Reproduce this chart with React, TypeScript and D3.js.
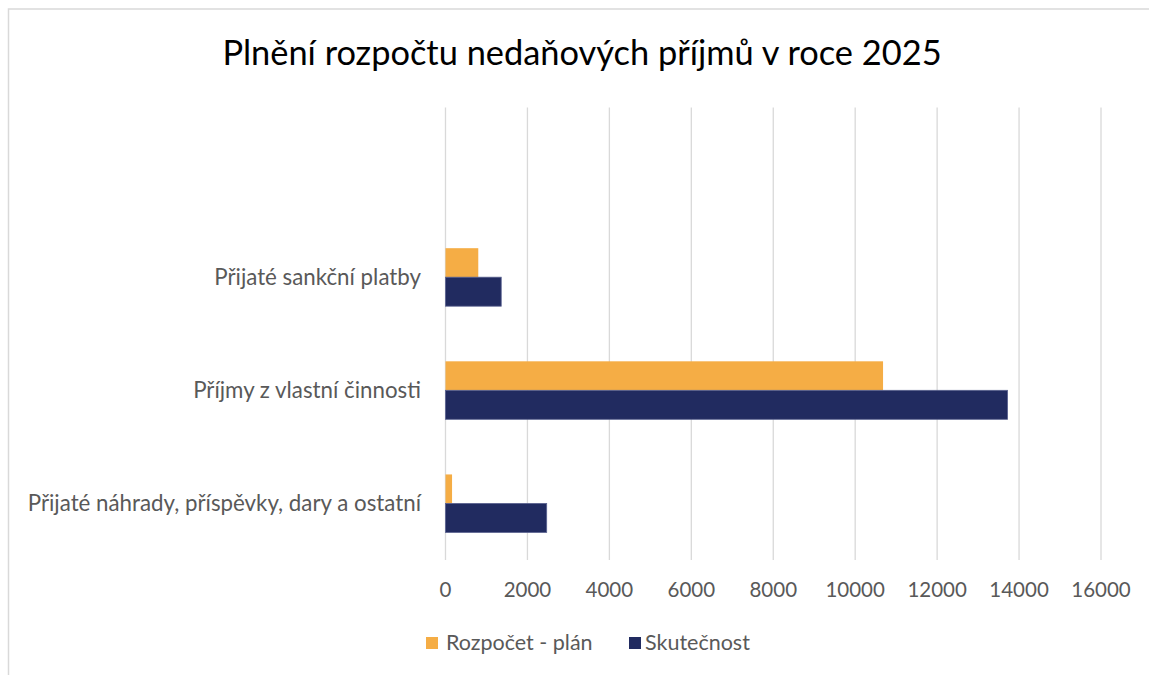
import React, { useEffect, useRef } from 'react';
import * as d3 from 'd3';

// categories from top to bottom (first slot is empty in the original)
const categories = ['', 'Přijaté sankční platby', 'Příjmy z vlastní činnosti', 'Přijaté náhrady, příspěvky, dary a ostatní'];
const seriesNames = ['Rozpočet - plán', 'Skutečnost'];
const planValues = [null, 800, 10680, 160];
const actualValues = [null, 1360, 13720, 2470];
const xTicks = [0, 2000, 4000, 6000, 8000, 10000, 12000, 14000, 16000];
const colors = ['#F5AD45', '#212B60'];

const FONT = 'Lato, "Open Sans", sans-serif';

const App = () => {
    const ref = useRef<SVGSVGElement>(null);

    useEffect(() => {
        const svg = d3.select(ref.current);
        svg.selectAll('*').remove();

        const W = 1149, H = 675;
        const left = 445.5, right = 1101, top = 107.5, bottom = 560;

        // chart border (right/bottom edge is outside of the picture)
        svg.append('rect')
            .attr('x', 8.5).attr('y', 9)
            .attr('width', W + 20).attr('height', H + 20)
            .attr('fill', '#fff')
            .attr('stroke', '#D9D9D9')
            .attr('stroke-width', 1.5);

        const x = d3.scaleLinear().domain([0, 16000]).range([left, right]);
        const y = d3.scaleBand().domain(categories.map((c, i) => String(i))).range([top, bottom]);
        const inner = d3.scaleBand().domain(seriesNames).range([0, 58]);
        const offset = (y.bandwidth() - 58) / 2;

        // gridlines
        svg.append('g').selectAll('line')
            .data(xTicks)
            .enter().append('line')
            .attr('x1', d => x(d)).attr('x2', d => x(d))
            .attr('y1', top).attr('y2', bottom)
            .attr('stroke', '#D9D9D9')
            .attr('stroke-width', 1.3);

        const series = [planValues, actualValues];
        series.forEach((vals, si) => {
            svg.append('g').selectAll('rect')
                .data(vals.map((v, i) => ({ v, i })).filter(d => d.v !== null))
                .enter().append('rect')
                .attr('x', x(0))
                .attr('y', d => (y(String(d.i)) as number) + offset + (inner(seriesNames[si]) as number))
                .attr('width', d => x(d.v as number) - x(0))
                .attr('height', inner.bandwidth())
                .attr('fill', colors[si])
                .attr('stroke', si === 1 ? '#5A6290' : 'none')
                .attr('stroke-width', 0.8);
        });

        // category labels
        svg.append('g').selectAll('text')
            .data(categories.map((c, i) => ({ c, i })).filter(d => d.c !== ''))
            .enter().append('text')
            .attr('x', 421)
            .attr('y', d => (y(String(d.i)) as number) + y.bandwidth() / 2)
            .attr('dy', '0.36em')
            .attr('text-anchor', 'end')
            .attr('font-family', FONT)
            .attr('font-size', 22.3)
            .attr('fill', '#595959')
            .text(d => d.c);

        // x tick labels
        svg.append('g').selectAll('text')
            .data(xTicks)
            .enter().append('text')
            .attr('x', d => x(d))
            .attr('y', 589.5)
            .attr('dy', '0.36em')
            .attr('text-anchor', 'middle')
            .attr('font-family', FONT)
            .attr('font-size', 20.5)
            .attr('fill', '#595959')
            .text(d => String(d));

        // title
        svg.append('text')
            .attr('x', 582)
            .attr('y', 65)
            .attr('text-anchor', 'middle')
            .attr('font-family', FONT)
            .attr('font-size', 34.4)
            .attr('fill', '#000')
            .text('Plnění rozpočtu nedaňových příjmů v roce 2025');

        // legend
        const legendX = [426, 629];
        const legend = svg.append('g');
        seriesNames.forEach((name, i) => {
            legend.append('rect')
                .attr('x', legendX[i]).attr('y', 637)
                .attr('width', 12).attr('height', 12)
                .attr('fill', colors[i]);
            legend.append('text')
                .attr('x', legendX[i] + (i === 0 ? 20 : 16))
                .attr('y', 642)
                .attr('dy', '0.36em')
                .attr('font-family', FONT)
                .attr('font-size', 21.5)
                .attr('fill', '#595959')
                .text(name);
        });
    }, []);

    return (
        <div style={{ position: 'fixed', left: 0, top: 0, width: 1149, height: 675, overflow: 'hidden' }}>
            <svg ref={ref} width={1149} height={675} style={{ display: 'block' }}></svg>
        </div>
    );
};

export default App;
